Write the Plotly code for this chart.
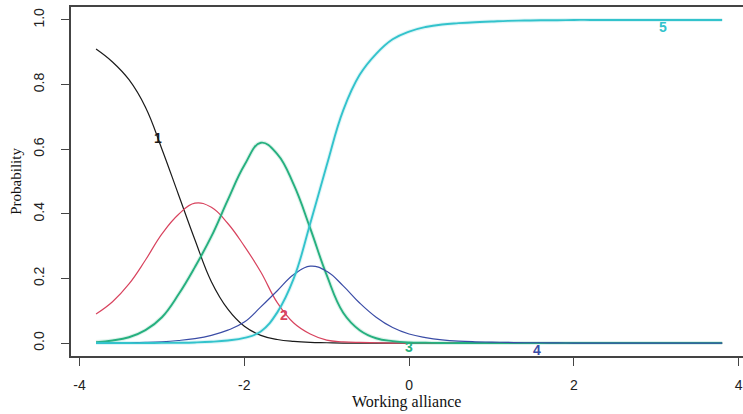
import plotly.graph_objects as go

theta = [-3.8, -3.6, -3.4, -3.2, -3.0, -2.8, -2.6, -2.4, -2.2, -2.0,
         -1.8, -1.6, -1.4, -1.2, -1.0, -0.8, -0.6, -0.4, -0.2, 0.0,
         0.2, 0.4, 0.6, 0.8, 1.0, 1.2, 1.4, 1.6, 1.8, 2.0,
         2.2, 2.4, 2.6, 2.8, 3.0, 3.2, 3.4, 3.6, 3.8]

cat1 = [0.91, 0.87, 0.815, 0.73, 0.60, 0.46, 0.32, 0.19, 0.105, 0.052,
        0.024, 0.011, 0.005, 0.002, 0.001, 0, 0, 0, 0, 0,
        0, 0, 0, 0, 0, 0, 0, 0, 0, 0,
        0, 0, 0, 0, 0, 0, 0, 0, 0]
cat2 = [0.09, 0.128, 0.183, 0.257, 0.338, 0.398, 0.433, 0.42, 0.37, 0.30,
        0.22, 0.125, 0.062, 0.028, 0.009, 0.004, 0.002, 0.001, 0, 0,
        0, 0, 0, 0, 0, 0, 0, 0, 0, 0,
        0, 0, 0, 0, 0, 0, 0, 0, 0]
cat3 = [0.003, 0.008, 0.018, 0.04, 0.08, 0.15, 0.235, 0.33, 0.443, 0.55,
        0.62, 0.585, 0.49, 0.355, 0.21, 0.094, 0.04, 0.015, 0.006, 0.002,
        0.001, 0, 0, 0, 0, 0, 0, 0, 0, 0,
        0, 0, 0, 0, 0, 0, 0, 0, 0]
cat4 = [0, 0.0005, 0.001, 0.002, 0.004, 0.008, 0.014, 0.024, 0.04, 0.065,
        0.112, 0.162, 0.212, 0.238, 0.222, 0.177, 0.124, 0.08, 0.048, 0.028,
        0.017, 0.01, 0.006, 0.004, 0.003, 0.002, 0.001, 0.001, 0.0005, 0,
        0, 0, 0, 0, 0, 0, 0, 0, 0]
cat5 = [0, 0, 0, 0, 0.0005, 0.001, 0.002, 0.004, 0.008, 0.016,
        0.036, 0.095, 0.20, 0.37, 0.55, 0.72, 0.83, 0.895, 0.94, 0.964,
        0.978, 0.986, 0.99, 0.993, 0.995, 0.997, 0.998, 0.999, 0.999, 1,
        1, 1, 1, 1, 1, 1, 1, 1, 1]

series = [cat1, cat2, cat3, cat4, cat5]
names = ["1", "2", "3", "4", "5"]
colors = ["#1a1a1a", "#D8435E", "#26B07F", "#3A4CA6", "#33C3CC"]
widths = [1.2, 1.2, 1.9, 1.2, 1.9]
halo = [False, False, True, False, True]

# label positions (theta, probability)
label_x = [-3.05, -1.52, 0.0, 1.55, 3.08]
label_y = [0.634, 0.087, -0.013, -0.022, 0.977]

fig = go.Figure()
for s, n, c, w, h in zip(series, names, colors, widths, halo):
    if h:
        fig.add_trace(go.Scatter(x=theta, y=s, mode="lines",
                                 line=dict(color=c, width=4, shape="spline", smoothing=1.2),
                                 opacity=0.15, hoverinfo="skip", showlegend=False))
    fig.add_trace(go.Scatter(x=theta, y=s, mode="lines", name=n,
                             line=dict(color=c, width=w, shape="spline", smoothing=1.2),
                             showlegend=False))

for lx, ly, n, c in zip(label_x, label_y, names, colors):
    fig.add_annotation(x=lx, y=ly, text="<b>" + n + "</b>", showarrow=False,
                       font=dict(family="Arial, Liberation Sans, sans-serif", size=14, color=c),
                       xanchor="center", yanchor="middle")

fig.add_annotation(x=0.4995, y=-0.132, xref="paper", yref="paper", text="Working alliance",
                   showarrow=False, xanchor="center", yanchor="middle",
                   font=dict(family="Times New Roman, Liberation Serif, serif", size=16, color="#111"))
fig.add_annotation(x=-0.083, y=0.5, xref="paper", yref="paper", text="Probability",
                   showarrow=False, textangle=-90, xanchor="center", yanchor="middle",
                   font=dict(family="Times New Roman, Liberation Serif, serif", size=15, color="#111"))

tickfont = dict(family="Arial, Liberation Sans, sans-serif", size=14, color="#222")
fig.update_layout(
    width=743, height=414,
    margin=dict(l=71, r=0, t=7, b=58),
    paper_bgcolor="white", plot_bgcolor="white",
    xaxis=dict(range=[-4.104, 4.053], tickvals=[-4, -2, 0, 2, 4], ticktext=["-4", "-2", "0", "2", "4"],
               showgrid=False, zeroline=False, showline=True, mirror=True,
               linecolor="#444", linewidth=1.5, ticks="outside", ticklen=8,
               tickcolor="#444", tickwidth=1.3, tickfont=tickfont, ticklabelstandoff=7),
    yaxis=dict(range=[-0.04, 1.04], tickvals=[0, 0.2, 0.4, 0.6, 0.8, 1.0],
               ticktext=["0.0", "0.2", "0.4", "0.6", "0.8", "1.0"],
               showgrid=False, zeroline=False, showline=True, mirror=False,
               linecolor="#444", linewidth=1.5, ticks="outside", ticklen=8,
               tickcolor="#444", tickwidth=1.3, tickfont=tickfont, tickangle=-90,
               ticklabelstandoff=12),
)

fig.write_html("out.html")
